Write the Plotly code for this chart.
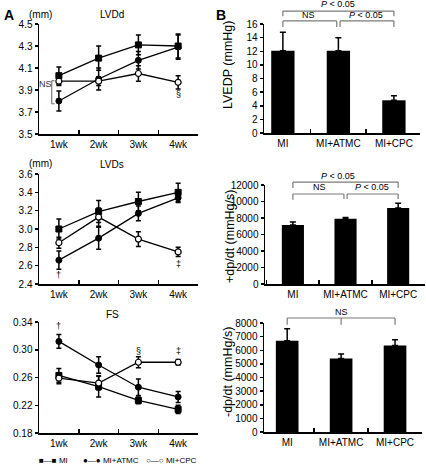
import plotly.graph_objects as go

W, H = 426, 468

weeks = ["1wk", "2wk", "3wk", "4wk"]
groups = ["MI", "MI+ATMC", "MI+CPC"]

# Panel A: echocardiography (mean, SEM)
lvdd_mi = [4.03, 4.19, 4.31, 4.30]
lvdd_mi_err = [0.08, 0.11, 0.09, 0.11]
lvdd_atmc = [3.80, 4.00, 4.17, 4.29]
lvdd_atmc_err = [0.09, 0.10, 0.08, 0.11]
lvdd_cpc = [3.98, 3.98, 4.05, 3.97]
lvdd_cpc_err = [0.04, 0.04, 0.07, 0.06]

lvds_mi = [3.00, 3.19, 3.30, 3.40]
lvds_mi_err = [0.11, 0.12, 0.10, 0.10]
lvds_atmc = [2.66, 2.90, 3.17, 3.34]
lvds_atmc_err = [0.10, 0.12, 0.08, 0.05]
lvds_cpc = [2.85, 3.13, 2.89, 2.75]
lvds_cpc_err = [0.06, 0.10, 0.08, 0.05]

fs_mi = [0.263, 0.247, 0.227, 0.214]
fs_mi_err = [0.010, 0.015, 0.005, 0.006]
fs_atmc = [0.312, 0.278, 0.246, 0.232]
fs_atmc_err = [0.010, 0.012, 0.012, 0.008]
fs_cpc = [0.259, 0.252, 0.282, 0.282]
fs_cpc_err = [0.008, 0.010, 0.008, 0.004]

# Panel B: hemodynamics (mean, SEM)
lvedp = [12.08, 12.08, 4.8]
lvedp_err = [2.7, 1.9, 0.65]
dpdt_pos = [7150, 7900, 9200]
dpdt_pos_err = [370, 150, 600]
dpdt_neg = [6700, 5400, 6350]
dpdt_neg_err = [880, 330, 420]

legend_labels = ["■—■ MI", "●—● MI+ATMC", "○—○ MI+CPC"]

FONT = "Liberation Sans, Arial, sans-serif"
GRAY = "#7a7a7a"


def px(x):
    return x / W


def py(y):
    return 1 - y / H


fig = go.Figure()

series_styles = [
    ("MI", dict(symbol="square", size=6, color="black", line=dict(color="black", width=1))),
    ("MI+ATMC", dict(symbol="circle", size=6, color="black", line=dict(color="black", width=1))),
    ("MI+CPC", dict(symbol="circle", size=6, color="white", line=dict(color="black", width=1.2))),
]

line_panels = [
    ("x", "y", [(lvdd_mi, lvdd_mi_err), (lvdd_atmc, lvdd_atmc_err), (lvdd_cpc, lvdd_cpc_err)]),
    ("x2", "y2", [(lvds_mi, lvds_mi_err), (lvds_atmc, lvds_atmc_err), (lvds_cpc, lvds_cpc_err)]),
    ("x3", "y3", [(fs_mi, fs_mi_err), (fs_atmc, fs_atmc_err), (fs_cpc, fs_cpc_err)]),
]

for pi, (xa, ya, data) in enumerate(line_panels):
    for si, (vals, errs) in enumerate(data):
        name, mk = series_styles[si]
        fig.add_trace(go.Scatter(
            x=weeks, y=vals, mode="lines+markers", name=name,
            xaxis=xa, yaxis=ya, showlegend=False,
            line=dict(color="black", width=1.3), marker=mk,
            error_y=dict(type="data", array=errs, color="black", thickness=1.5, width=2.5),
        ))

bar_panels = [
    ("x4", "y4", lvedp, lvedp_err),
    ("x5", "y5", dpdt_pos, dpdt_pos_err),
    ("x6", "y6", dpdt_neg, dpdt_neg_err),
]
for xa, ya, vals, errs in bar_panels:
    fig.add_trace(go.Bar(
        x=groups, y=vals, xaxis=xa, yaxis=ya, showlegend=False, width=0.42,
        marker=dict(color="black", line=dict(width=0)),
        error_y=dict(type="data", symmetric=False, array=errs, arrayminus=[0, 0, 0],
                     color="black", thickness=1.5, width=3),
    ))

axis_common = dict(showline=True, linecolor="black", linewidth=1.5, showgrid=False,
                   zeroline=False, tickfont=dict(family=FONT, size=10, color="black"),
                   tickcolor="black", tickwidth=1.5, automargin=False, tickangle=0)

layout = dict(
    template="none",
    width=W, height=H, margin=dict(l=0, r=0, t=0, b=0, autoexpand=False),
    paper_bgcolor="white", plot_bgcolor="white",
    font=dict(family=FONT, color="black"),
    showlegend=False,
)

line_y_px = [(24, 134), (174, 284), (322, 433)]
line_ranges = [([3.5, 4.5], 0.2, ".1f"), ([2.4, 3.6], 0.2, ".1f"), ([0.18, 0.34], 0.04, ".2f")]
for i in range(3):
    sx = "" if i == 0 else str(i + 1)
    top, bot = line_y_px[i]
    rng, dt, fmt = line_ranges[i]
    layout["xaxis" + sx] = dict(axis_common, type="category", domain=[px(39), px(198)],
                                anchor="y" + sx, range=[-0.5, 3.5], ticks="inside",
                                tickson="boundaries", ticklen=4)
    layout["yaxis" + sx] = dict(axis_common, domain=[py(bot), py(top)], anchor="x" + sx,
                                range=rng, dtick=dt, tick0=rng[0], tickformat=fmt,
                                ticks="outside", ticklen=3)

bar_geom = [
    ((264, 420), (24, 133), [-0.34, 2.47], [0, 16], 2),
    ((265, 425), (185, 284), [-0.53, 2.51], [0, 12000], 2000),
    ((264, 422), (323, 432), [-0.43, 2.5], [0, 8000], 1000),
]
for j, ((xl, xr), (top, bot), xr_rng, yr_rng, dt) in enumerate(bar_geom):
    sx = str(j + 4)
    layout["xaxis" + sx] = dict(axis_common, type="category", domain=[px(xl), px(xr)],
                                anchor="y" + sx, range=xr_rng, ticks="inside",
                                tickson="boundaries", ticklen=4)
    layout["yaxis" + sx] = dict(axis_common, domain=[py(bot), py(top)], anchor="x" + sx,
                                range=yr_rng, dtick=dt, tick0=0, tickformat="d",
                                ticks="outside", ticklen=3)

fig.update_layout(**layout)

ann = []


def text(x, y, t, size=10, **kw):
    d = dict(x=x, y=y, text=t, showarrow=False, xanchor="center", yanchor="middle",
             font=dict(family=FONT, size=size, color=kw.pop("color", "black")))
    d.update(kw)
    ann.append(d)


# panel letters and titles (paper coords)
text(px(9), py(15), "<b>A</b>", size=14, xref="paper", yref="paper")
text(px(221), py(15), "<b>B</b>", size=14, xref="paper", yref="paper")
text(px(112), py(15), "LVDd", size=10, xref="paper", yref="paper")
text(px(40), py(14), "(mm)", size=10, xref="paper", yref="paper")
text(px(112), py(164), "LVDs", size=10, xref="paper", yref="paper")
text(px(40), py(163), "(mm)", size=10, xref="paper", yref="paper")
text(px(112), py(314), "FS", size=10, xref="paper", yref="paper")

# y-axis titles for bar panels
text(px(228), py(65), "LVEDP (mmHg)", size=12.5, xref="paper", yref="paper", textangle=-90)
text(px(230), py(237), "+dp/dt (mmHg/s)", size=12.5, xref="paper", yref="paper", textangle=-90)
text(px(228), py(372), "-dp/dt (mmHg/s)", size=12.5, xref="paper", yref="paper", textangle=-90)

# legend (marker—marker label)
text(px(37), py(460), legend_labels[0], size=8, xref="paper", yref="paper", xanchor="left")
text(px(81), py(460), legend_labels[1], size=8, xref="paper", yref="paper", xanchor="left")
text(px(144), py(460), legend_labels[2], size=8, xref="paper", yref="paper", xanchor="left")

# significance symbols in line panels
text("4wk", 3.86, "§", size=9, xref="x", yref="y")
text("1wk", 2.50, "†", size=9, xref="x2", yref="y2")
text("4wk", 2.62, "‡", size=9, xref="x2", yref="y2")
text("1wk", 0.334, "†", size=9, xref="x3", yref="y3")
text("3wk", 0.298, "§", size=9, xref="x3", yref="y3")
text("4wk", 0.298, "‡", size=9, xref="x3", yref="y3")
text(-0.33, 3.955, "NS", size=9, xref="x", yref="y", color="#333333")

shapes = []


def seg(xref, yref, x0, y0, x1, y1):
    shapes.append(dict(type="line", xref=xref, yref=yref, x0=x0, y0=y0, x1=x1, y1=y1,
                       line=dict(color=GRAY, width=1.2)))


# NS bracket in LVDd
seg("x", "y", -0.18, 3.985, -0.18, 3.775)
seg("x", "y", -0.18, 3.985, -0.11, 3.985)
seg("x", "y", -0.18, 3.775, -0.11, 3.775)


def bracket(xa, ya, a, b, yh, ylo_a, ylo_b):
    yr = ya + " domain"
    seg(xa, yr, a, yh, b, yh)
    seg(xa, yr, a, yh, a, ylo_a)
    seg(xa, yr, b, yh, b, ylo_b)


# B1 brackets
bracket("x4", "y4", 0, 2, 1.119, 1.07, 1.07)
bracket("x4", "y4", 0, 0.97, 1.028, 0.972, 0.972)
bracket("x4", "y4", 1.03, 2, 1.028, 0.972, 0.972)
text(1, 1.18, "<i>P</i> < 0.05", size=9, xref="x4", yref="y4 domain")
text(0.47, 1.08, "NS", size=9, xref="x4", yref="y4 domain")
text(1.5, 1.08, "<i>P</i> < 0.05", size=9, xref="x4", yref="y4 domain")

# B2 brackets
bracket("x5", "y5", 0, 2, 1.03, 0.97, 0.97)
bracket("x5", "y5", 0, 0.97, 0.909, 0.85, 0.859)
bracket("x5", "y5", 1.03, 2, 0.909, 0.859, 0.859)
text(0.85, 1.09, "<i>P</i> < 0.05", size=9, xref="x5", yref="y5 domain")
text(0.5, 0.975, "NS", size=9, xref="x5", yref="y5 domain")
text(1.5, 0.975, "<i>P</i> < 0.05", size=9, xref="x5", yref="y5 domain")

# B3 bracket
bracket("x6", "y6", 0, 2, 1.046, 0.985, 0.985)
seg("x6", "y6 domain", 1, 1.046, 1, 0.985)
text(1, 1.10, "NS", size=9, xref="x6", yref="y6 domain")

fig.update_layout(annotations=ann, shapes=shapes)

fig.write_html("out.html", config={"displayModeBar": False, "staticPlot": True},
               post_script="document.body.style.margin='0';document.body.style.padding='0';")
